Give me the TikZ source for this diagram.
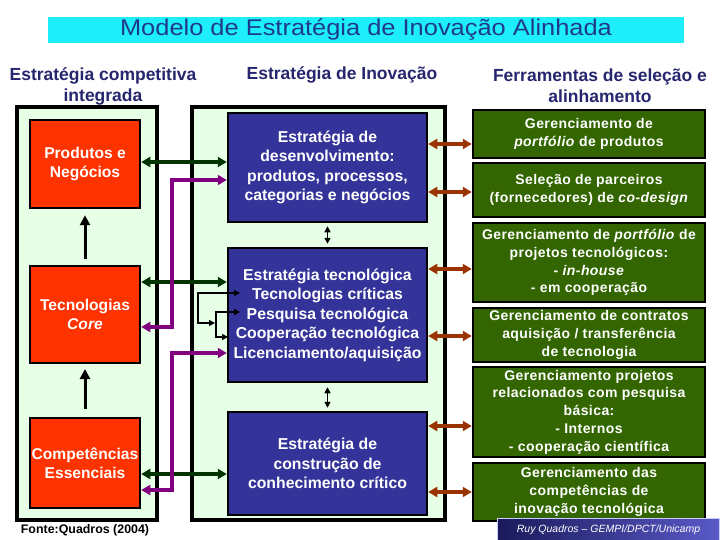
\documentclass[tikz,border=0pt]{standalone}
\usepackage{fontspec}
\setmainfont{Liberation Sans}
\newfontfamily\spacedfont[LetterSpace=3]{Liberation Sans}
\newfontfamily\widefont[FakeStretch=1.12]{Liberation Sans}
\usetikzlibrary{arrows.meta}
\definecolor{titlebg}{HTML}{1EEEFA}
\definecolor{titlefg}{HTML}{1E3A8C}
\definecolor{headfg}{HTML}{26266E}
\definecolor{paleg}{HTML}{E6FFE6}
\definecolor{redf}{HTML}{FF3300}
\definecolor{bluef}{HTML}{333399}
\definecolor{greenf}{HTML}{336600}
\definecolor{browna}{HTML}{993300}
\definecolor{darkg}{HTML}{003300}
\definecolor{purp}{HTML}{800080}
\definecolor{credL}{HTML}{1A1A5C}
\definecolor{credR}{HTML}{5A5AC8}
\tikzset{
  outerbox/.style={draw=black, line width=3.5pt, fill=paleg, inner sep=0pt},
  redbox/.style={draw=black, line width=2.5pt, fill=redf, text=white, inner sep=0pt, align=center,
     font=\fontsize{15.6}{19}\selectfont\bfseries, minimum width=110pt},
  bluebox/.style={draw=black, line width=2.5pt, fill=bluef, text=white, inner sep=0pt, align=center,
     font=\fontsize{15.8}{19.5}\selectfont\bfseries, minimum width=199pt},
  greenbox/.style={draw=black, line width=2.5pt, fill=greenf, text=white, inner sep=0pt, align=center,
     font=\spacedfont\fontsize{14}{17.7}\selectfont\bfseries, minimum width=232pt},
  heading/.style={text=headfg, align=center, font=\fontsize{17.5}{21}\selectfont\bfseries, inner sep=0pt},
  garrow/.style={draw=darkg, line width=3.5pt, {Triangle[length=9pt,width=10pt]}-{Triangle[length=9pt,width=10pt]}},
  parrow/.style={draw=purp, line width=3.5pt, {Triangle[length=9pt,width=10pt]}-{Triangle[length=9pt,width=10pt]}},
  barrow/.style={draw=browna, line width=3.5pt, {Triangle[length=9pt,width=10pt]}-{Triangle[length=9pt,width=10pt]}},
  karrow/.style={draw=black, line width=3pt, -{Triangle[length=10pt,width=10pt]}},
  kthin/.style={draw=black, line width=1.2pt, {Triangle[length=6pt,width=6pt]}-{Triangle[length=6pt,width=6pt]}},
}
\begin{document}
\begin{tikzpicture}[x=1pt,y=-1pt]
\useasboundingbox[fill=white] (0,0) rectangle (720,540);

% title
\node[fill=titlebg, minimum width=636pt, minimum height=26pt, inner sep=0pt,
      text=titlefg, font=\widefont\fontsize{22.7}{26}\selectfont] (title) at (366,30) {Modelo de Estratégia de Inovação Alinhada};

% headings
\node[heading] (h1) at (103,86) {Estratégia competitiva\\integrada};
\node[heading] (h2) at (342,75) {Estratégia de Inovação};
\node[heading] (h3) at (600,86) {Ferramentas de seleção e\\alinhamento};

% outer boxes
\node[outerbox, minimum width=140pt, minimum height=413pt] (lo) at (87,313.5) {};
\node[outerbox, minimum width=253pt, minimum height=413pt] (mo) at (318.5,313.5) {};

% red boxes
\node[redbox, minimum height=88pt] (prod) at (85,164) {Produtos e\\Negócios};
\node[redbox, minimum height=97pt] (tecc) at (85,314.5) {Tecnologias\\\itshape Core};
\node[redbox, minimum height=90pt] (comp) at (85,463) {Competências\\Essenciais};

% blue boxes
\node[bluebox, minimum height=109pt] (dev) at (327.5,167.5) {Estratégia de\\desenvolvimento:\\produtos, processos,\\categorias e negócios};
\node[bluebox, minimum height=134pt] (tecn) at (327.5,315) {Estratégia tecnológica\\Tecnologias críticas\\Pesquisa tecnológica\\Cooperação tecnológica\\Licenciamento/aquisição};
\node[bluebox, minimum height=103pt] (conh) at (327.5,463.5) {Estratégia de\\construção de\\conhecimento crítico};

% green boxes
\node[greenbox, minimum height=48pt] (g1) at (589,134) {Gerenciamento de\\\textit{portfólio} de produtos};
\node[greenbox, minimum height=54pt] (g2) at (589,190) {Seleção de parceiros\\(fornecedores) de \textit{co-design}};
\node[greenbox, minimum height=79pt] (g3) at (589,262.5) {Gerenciamento de \textit{portfólio} de\\projetos tecnológicos:\\- \textit{in-house}\\- em cooperação};
\node[greenbox, minimum height=54pt] (g4) at (589,335) {Gerenciamento de contratos\\aquisição / transferência\\de tecnologia};
\node[greenbox, minimum height=90pt] (g5) at (589,412) {Gerenciamento projetos\\relacionados com pesquisa\\básica:\\- Internos\\- cooperação científica};
\node[greenbox, minimum height=58pt] (g6) at (589,492) {Gerenciamento das\\competências de\\inovação tecnológica};

% left column up arrows
\draw[karrow, shorten <=8pt, shorten >=6pt] (comp.north) -- (tecc.north |- 0,363);
\draw[karrow, shorten <=6pt, shorten >=6pt] (tecc.north) -- (prod.south);

% dark green arrows
\draw[garrow] (prod.east |- 0,162) -- (dev.west |- 0,162);
\draw[garrow] (tecc.east |- 0,282) -- (tecn.west |- 0,282);
\draw[garrow] (comp.east |- 0,474) -- (conh.west |- 0,474);

% purple arrows
\coordinate (pa) at (172,327);
\coordinate (pb) at (172,490);
\draw[parrow] (tecc.east |- pa) -- (pa) |- (dev.west |- 0,180);
\draw[parrow] (comp.east |- pb) -- (pb) |- (tecn.west |- 0,353);

% black thin loops
\coordinate (l1) at (198,293);
\coordinate (l2) at (216,312);
\draw[kthin] (215,323) -- (l1 |- 0,323) -- (l1) -- (240,293);
\draw[kthin] (228,337) -- (l2 |- 0,337) -- (l2) -- (240,312);

% small vertical black double arrows
\draw[kthin, line width=1.5pt, shorten <=3pt, shorten >=3pt] (dev.south) -- (tecn.north);
\draw[kthin, line width=1.5pt, shorten <=4pt, shorten >=3pt] (tecn.south) -- (conh.north);

% brown arrows
\draw[barrow] (dev.east |- 0,144) -- (g1.west |- 0,144);
\draw[barrow] (dev.east |- 0,192) -- (g2.west |- 0,192);
\draw[barrow] (tecn.east |- 0,269) -- (g3.west |- 0,269);
\draw[barrow] (tecn.east |- 0,336) -- (g4.west |- 0,336);
\draw[barrow] (conh.east |- 0,426) -- (g5.west |- 0,426);
\draw[barrow] (conh.east |- 0,492) -- (g6.west |- 0,492);

% source and credit
\node[font=\fontsize{12.4}{14}\selectfont\bfseries, inner sep=0pt] (src) at (85,530) {Fonte:Quadros (2004)};
\node[left color=credL, right color=credR, draw=white!80!blue, line width=1pt, minimum width=222pt, minimum height=23pt,
      inner sep=0pt, text=white, font=\fontsize{10.5}{12}\selectfont\itshape] (cred) at (608.5,529.5) {Ruy Quadros -- GEMPI/DPCT/Unicamp};
\end{tikzpicture}
\end{document}
